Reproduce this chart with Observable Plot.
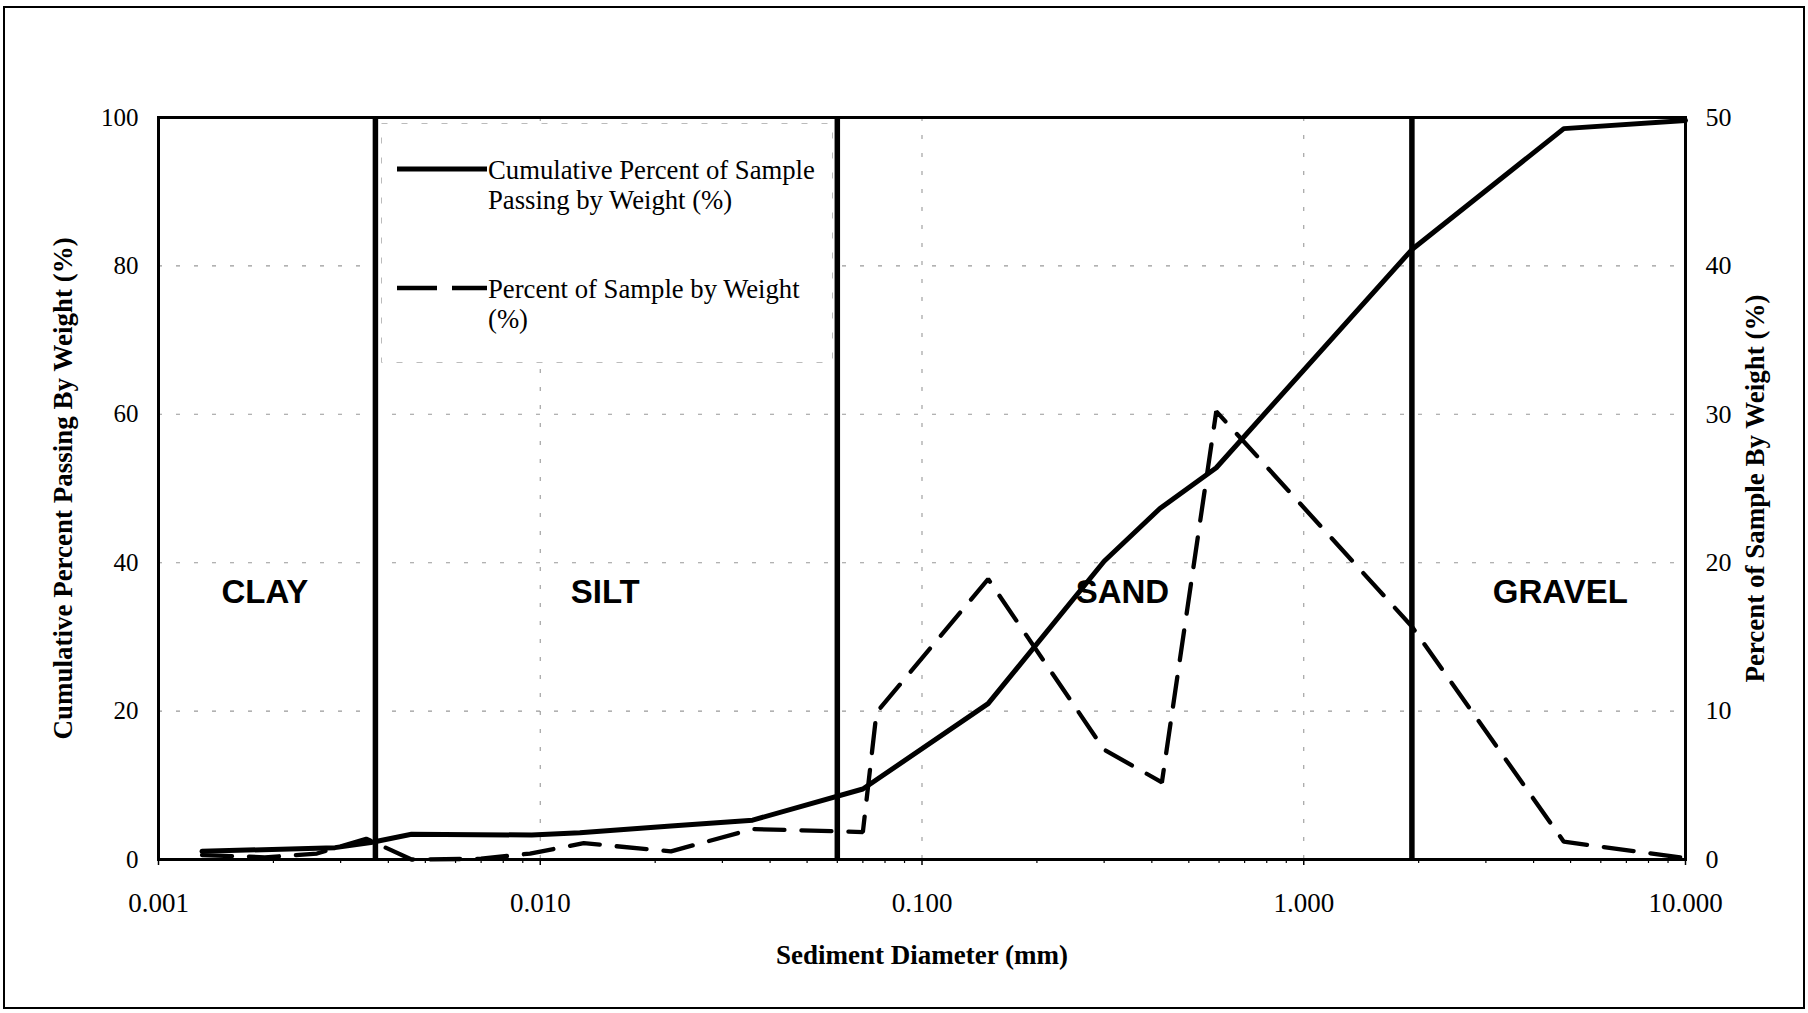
<!DOCTYPE html>
<html>
<head>
<meta charset="utf-8">
<script src="https://cdn.jsdelivr.net/npm/d3@7"></script>
<script src="https://cdn.jsdelivr.net/npm/@observablehq/plot@0.6"></script>
<style>
  html, body { margin: 0; padding: 0; background: #fff; }
  #wrap { position: relative; width: 1808px; height: 1013px; overflow: hidden; background: #fff; }
  #border { position: absolute; left: 3px; top: 6px; width: 1798px; height: 999px; border: 2px solid #000; pointer-events: none; }
  #legend { position: absolute; left: 381px; top: 123px; }
</style>
</head>
<body>
<div id="wrap"></div>
<script>
// ---- data ----
const xTicks = [0.001, 0.01, 0.1, 1, 10];
const yLeftTicks = [0, 20, 40, 60, 80, 100];
const yRightTicks = [0, 10, 20, 30, 40, 50];

// Cumulative percent of sample passing by weight (%) – left axis
const cumDiameter = [0.0013, 0.0029, 0.0036, 0.0046, 0.0095, 0.0127, 0.022, 0.036, 0.070, 0.149, 0.30, 0.42, 0.59, 1.92, 4.8, 10];
const cumPercent  = [1.1, 1.6, 2.3, 3.4, 3.3, 3.6, 4.5, 5.3, 9.5, 21.0, 40.2, 47.3, 52.8, 82.2, 98.5, 99.6];

// Percent of sample by weight (%) – right axis
const wtDiameter = [0.0013, 0.0019, 0.0026, 0.0035, 0.0046, 0.0070, 0.0094, 0.013, 0.022, 0.036, 0.070, 0.076, 0.149, 0.30, 0.425, 0.59, 1.92, 4.8, 10];
const wtPercent  = [0.3, 0.15, 0.4, 1.4, 0.0, 0.05, 0.4, 1.1, 0.55, 2.05, 1.85, 9.9, 18.9, 7.4, 5.2, 30.2, 15.7, 1.2, 0.1];

// Size class boundaries (mm) and labels
const boundaries = [0.0037, 0.06, 1.92];
const classes = ["CLAY", "SILT", "SAND", "GRAVEL"];
const classX = [0.0019, 0.0148, 0.335, 4.7];
const classY = 36;

const gridX = [0.01, 0.1, 1];
const gridY = [20, 40, 60, 80];

const legendLabels = [["Cumulative Percent of Sample", "Passing by Weight (%)"], ["Percent of Sample by Weight", "(%)"]];

// ---- build tables ----
const cum = cumDiameter.map((d, i) => ({d, p: cumPercent[i]}));
const wt = wtDiameter.map((d, i) => ({d, p: wtPercent[i]}));
const rightScale = 2; // 50 on right axis == 100 on left axis
const minorTicks = [];
for (let e = -3; e < 1; e++) for (let m = 2; m <= 9; m++) minorTicks.push(m * Math.pow(10, e));

const serif = "'Liberation Serif', 'Times New Roman', serif";
const sans = "'Liberation Sans', Arial, sans-serif";

const chart = Plot.plot({
  width: 1808,
  height: 1013,
  marginLeft: 158,
  marginRight: 123,
  marginTop: 117,
  marginBottom: 154,
  style: {fontFamily: serif, fontSize: "25px", color: "#000", background: "#fff", overflow: "visible"},
  x: {type: "log", domain: [0.001, 10], label: null},
  y: {domain: [0, 100], label: null},
  marks: [
    Plot.ruleY(gridY, {stroke: "#999", strokeWidth: 1.1, strokeDasharray: "4,14"}),
    Plot.ruleX(gridX, {stroke: "#999", strokeWidth: 1.1, strokeDasharray: "4,14"}),
    Plot.ruleX(boundaries, {stroke: "#000", strokeWidth: 5.5}),
    Plot.line(wt, {x: "d", y: d => d.p * rightScale, stroke: "#000", strokeWidth: 4.3, strokeDasharray: "30,17", strokeLinejoin: "miter"}),
    Plot.line(cum, {x: "d", y: "p", stroke: "#000", strokeWidth: 5, strokeLinejoin: "round"}),
    Plot.frame({stroke: "#000", strokeWidth: 3}),
    Plot.axisX(xTicks, {anchor: "bottom", tickFormat: d3.format(".3f"), tickSize: 6, tickPadding: 27, strokeWidth: 1.5, fontSize: 27, label: null}),
    Plot.axisX(minorTicks, {anchor: "bottom", tickFormat: () => "", tickSize: 4, strokeWidth: 1.2, label: null}),
    Plot.axisY(yLeftTicks, {anchor: "left", tickSize: 0, tickPadding: 20, label: null}),
    Plot.axisY(yRightTicks.map(v => v * rightScale), {anchor: "right", tickSize: 0, tickPadding: 20, fontSize: 26, tickFormat: v => String(v / rightScale), label: null}),
    Plot.text(classes, {x: (d, i) => classX[i], y: () => classY, text: d => d, fontFamily: sans, fontWeight: "bold", fontSize: 33, fill: "#000"}),
    Plot.text(["Cumulative Percent Passing By Weight (%)"], {frameAnchor: "left", textAnchor: "middle", rotate: -90, dx: -95, fontWeight: "bold", fontSize: 27, fill: "#000"}),
    Plot.text(["Percent of Sample By Weight (%)"], {frameAnchor: "right", textAnchor: "middle", rotate: -90, dx: 70, fontWeight: "bold", fontSize: 27, fill: "#000"}),
    Plot.text(["Sediment Diameter (mm)"], {frameAnchor: "bottom", textAnchor: "middle", dy: 104, fontWeight: "bold", fontSize: 27, fill: "#000"})
  ]
});

const wrap = document.getElementById("wrap");
wrap.appendChild(chart);

// legend overlay
const ns = "http://www.w3.org/2000/svg";
const lg = document.createElementNS(ns, "svg");
lg.setAttribute("id", "legend");
lg.setAttribute("width", 452);
lg.setAttribute("height", 240);
lg.innerHTML = `
  <rect x="0.5" y="0.5" width="451" height="239" fill="#fff" stroke="#bbb" stroke-width="1" stroke-dasharray="6,14"/>
  <line x1="16" y1="46" x2="106" y2="46" stroke="#000" stroke-width="5"/>
  <line x1="16" y1="165" x2="56" y2="165" stroke="#000" stroke-width="4.5"/>
  <line x1="71" y1="165" x2="106" y2="165" stroke="#000" stroke-width="4.5"/>
`;
const fontCss = `font-family:${serif};font-size:26.7px;`;
legendLabels.forEach((lines, k) => {
  lines.forEach((t, j) => {
    const tx = document.createElementNS(ns, "text");
    tx.setAttribute("x", 107);
    tx.setAttribute("y", (k === 0 ? 56 : 175) + j * 30);
    tx.setAttribute("style", fontCss);
    tx.setAttribute("fill", "#000");
    tx.textContent = t;
    lg.appendChild(tx);
  });
});
wrap.appendChild(lg);

const border = document.createElement("div");
border.id = "border";
wrap.appendChild(border);
</script>
</body>
</html>
